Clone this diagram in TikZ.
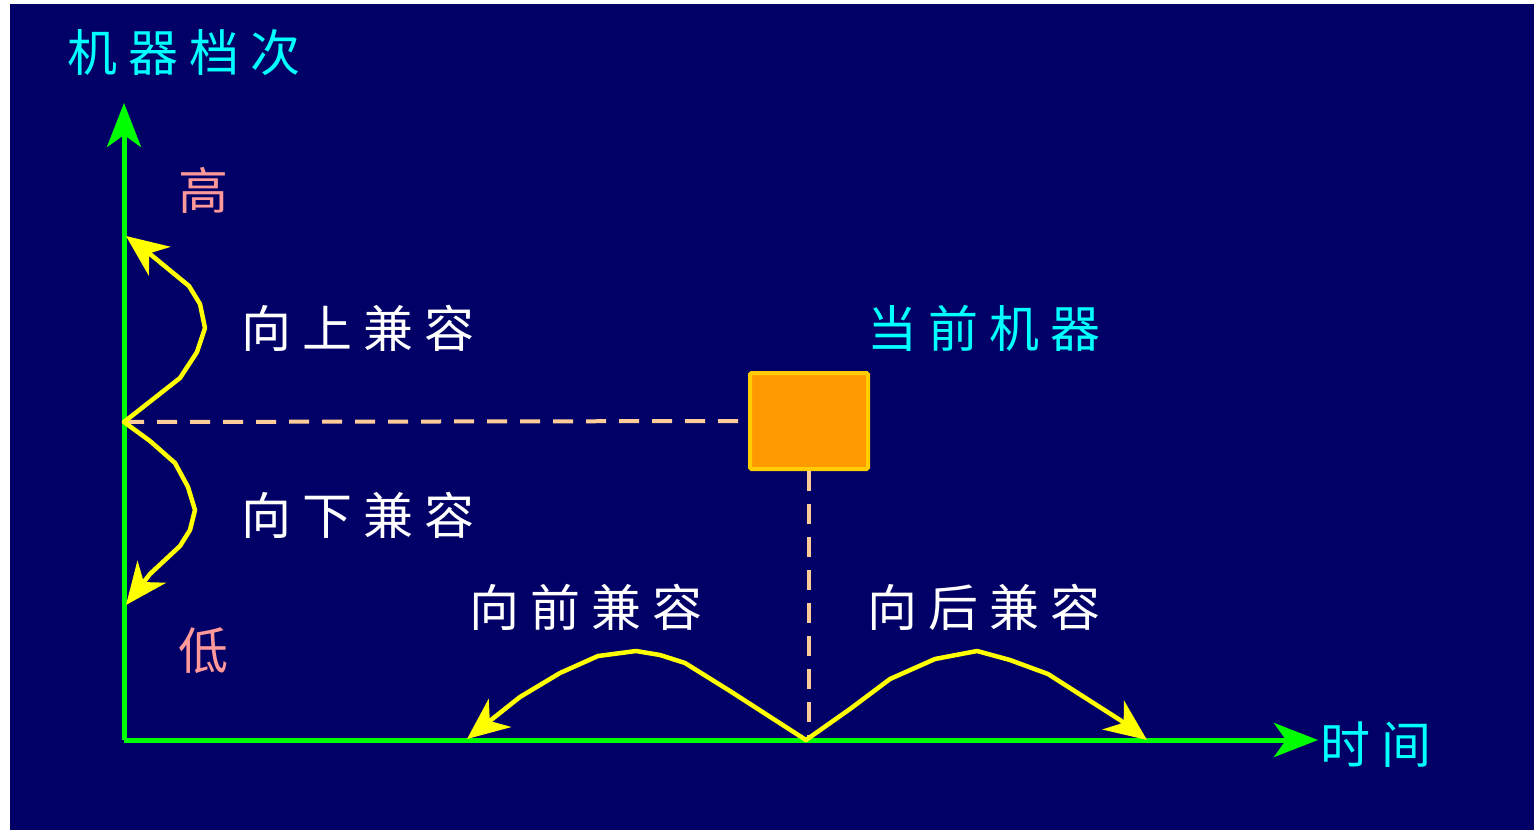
\documentclass[tikz,border=0pt]{standalone}
\usepackage{fontspec}
\newfontfamily\cjk{Noto Sans CJK SC}
\usetikzlibrary{arrows.meta}
\definecolor{navy}{HTML}{000066}
\definecolor{cyanT}{HTML}{00FFFF}
\definecolor{salmonT}{HTML}{FF9999}
\definecolor{axisG}{HTML}{00FF00}
\definecolor{yel}{HTML}{FFFF00}
\definecolor{peach}{HTML}{FFCC99}
\definecolor{orangeF}{HTML}{FF9900}
\definecolor{orangeB}{HTML}{FFCC00}
\tikzset{
  axisline/.style={draw=axisG, line width=5pt, -{Stealth[length=44pt,width=34pt,inset=12pt]}},
  compat/.style={draw=yel, line width=4.5pt, line join=round, line cap=round, -{Stealth[length=42pt,width=36pt,inset=13pt]}},
  guide/.style={draw=peach, line width=4pt, dash pattern=on 20pt off 13pt},
  lbl/.style={font=\cjk\fontsize{50}{54}\selectfont, inner sep=0pt, anchor=west},
  big/.style={lbl, text=white},
  ttl/.style={lbl, text=cyanT},
  lvl/.style={lbl, text=salmonT},
  cur/.style={draw=orangeB, fill=orangeF, line width=4pt, rounded corners=1.5pt, minimum width=118pt, minimum height=96pt, inner sep=0pt}
}
\newcommand{\gapc}{\hspace{11pt}}
\begin{document}
\begin{tikzpicture}[x=1pt,y=-1pt]
\useasboundingbox (0,0) rectangle (1534,830);
\fill[navy] (10,4) rectangle (1534,830);
% coordinates
\coordinate (O) at (124,740);
\coordinate (Ytop) at (124,103);
\coordinate (Xend) at (1318,740);
\coordinate (P) at (124,422);
\coordinate (Q) at (806,740);
\coordinate (Hi) at (126,236);
\coordinate (Lo) at (126,605);
\coordinate (Bk) at (467,739);
\coordinate (Fw) at (1147,740);
% box
\node[cur] (box) at (809,421) {};
% guides
\draw[guide] (P) -- (box.west);
\draw[guide] (box.south) -- (box.south |- Q);
% axes
\draw[axisline] (O) -- (Ytop);
\draw[axisline] (O) -- (Xend);
% compat curves
\draw[compat] (P) -- (180,378) -- (197,352) -- (205,328) -- (200,304) -- (189,286) -- (150,254) -- (Hi);
\draw[compat] (P) -- (150,441) -- (175,463) -- (188,487) -- (195,510) -- (190,530) -- (180,546) -- (150,574) -- (Lo);
\draw[compat] (Q) -- (730,691) -- (685,663) -- (660,655) -- (636,651) -- (598,656) -- (560,673) -- (520,697) -- (Bk);
\draw[compat] (Q) -- (850,709) -- (890,679) -- (935,659) -- (977,651) -- (1010,660) -- (1048,674) -- (1120,720) -- (Fw);
% labels
\node[ttl] (title) at (67,53) {机\gapc 器\gapc 档\gapc 次};
\node[ttl] (time) at (1320,745) {时\gapc 间};
\node[lvl] (hi) at (178,190) {高};
\node[lvl] (lo) at (178,651) {低};
\node[big] (up) at (241,328) {向\gapc 上\gapc 兼\gapc 容};
\node[big] (down) at (241,515) {向\gapc 下\gapc 兼\gapc 容};
\node[big] (back) at (469,607) {向\gapc 前\gapc 兼\gapc 容};
\node[big] (fwd) at (867,607) {向\gapc 后\gapc 兼\gapc 容};
\node[ttl] (curm) at (867,328) {当\gapc 前\gapc 机\gapc 器};
\end{tikzpicture}
\end{document}
